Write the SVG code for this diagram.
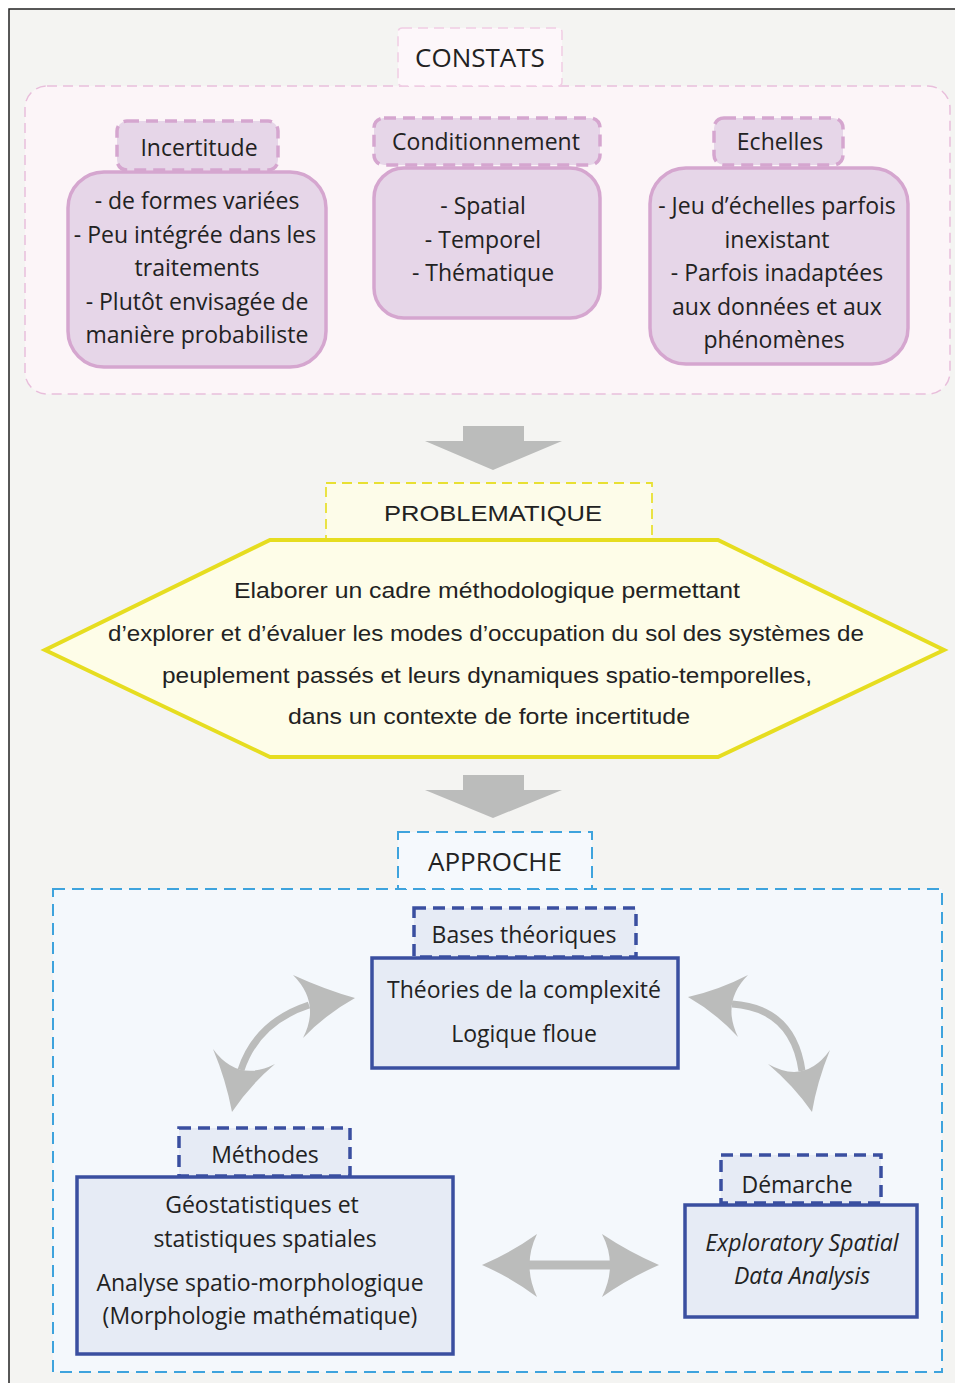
<svg xmlns="http://www.w3.org/2000/svg" width="955" height="1383" viewBox="0 0 955 1383">
<defs>
<style>
text{font-family:"Open Sans","Liberation Sans",sans-serif;fill:#222;text-anchor:middle}
.t24{font-size:26px}
.t21{font-size:23px}
.t22{font-size:22px}
.pcont{fill:#fcf5f8;stroke:#e8bedb;stroke-width:1.5;stroke-dasharray:10 6}
.plab{fill:#fdf7fa;stroke:#f0cde4;stroke-width:1.5;stroke-dasharray:10 6}
.phead{fill:#e6d6e8;stroke:#d5a6cf;stroke-width:3.5;stroke-dasharray:12 7}
.pbody{fill:#e6d6e8;stroke:#d5a6cf;stroke-width:3.5}
.ylab{fill:#fdfce9;stroke:#e8e033;stroke-width:1.8;stroke-dasharray:10 6}
.hex{fill:#fefde8;stroke:#e6dd20;stroke-width:4}
.blab{fill:#f5f9fd;stroke:#3ea3dd;stroke-width:2;stroke-dasharray:12 7}
.bcont{fill:#f4f8fc;stroke:#3ea3dd;stroke-width:2;stroke-dasharray:12 7}
.bhead{fill:#e6ebf5;stroke:#3a4fa0;stroke-width:3.5;stroke-dasharray:12 7}
.bbody{fill:#e6ebf5;stroke:#3a4fa0;stroke-width:3.5}
.garr{fill:#bbbcbb}
.gshaft{fill:none;stroke:#bbbcbb;stroke-width:7}
.pl{font-size:22px;font-family:"Liberation Sans","Open Sans",sans-serif}
</style>
</defs>
<rect x="9" y="9" width="960" height="1390" fill="#f4f4f2" stroke="#222" stroke-width="1.5"/>

<g id="constats">
<rect class="pcont" x="25" y="86" width="925" height="308" rx="22"/>
<rect class="plab" x="398" y="28" width="164" height="58" rx="4"/>
<text class="t24" x="480" y="67">CONSTATS</text>
</g>

<g id="incertitude">
<rect class="phead" x="117" y="121" width="161" height="49" rx="10"/>
<text class="t21" x="199" y="156">Incertitude</text>
<rect class="pbody" x="68" y="172" width="258" height="195" rx="36"/>
<text class="t21" x="197" y="209">- de formes variées</text>
<text class="t21" x="195" y="243">- Peu intégrée dans les</text>
<text class="t21" x="197" y="276">traitements</text>
<text class="t21" x="197" y="310">- Plutôt envisagée de</text>
<text class="t21" x="197" y="343">manière probabiliste</text>
</g>

<g id="conditionnement">
<rect class="phead" x="374" y="118" width="226" height="47" rx="10"/>
<text class="t21" x="486" y="150">Conditionnement</text>
<rect class="pbody" x="374" y="168" width="226" height="150" rx="30"/>
<text class="t21" x="483" y="214">- Spatial</text>
<text class="t21" x="483" y="248">- Temporel</text>
<text class="t21" x="483" y="281">- Thématique</text>
</g>

<g id="echelles">
<rect class="phead" x="714" y="118" width="129" height="47" rx="10"/>
<text class="t21" x="780" y="150">Echelles</text>
<rect class="pbody" x="650" y="168" width="258" height="196" rx="36"/>
<text class="t21" x="777" y="214">- Jeu d’échelles parfois</text>
<text class="t21" x="777" y="248">inexistant</text>
<text class="t21" x="777" y="281">- Parfois inadaptées</text>
<text class="t21" x="777" y="315">aux données et aux</text>
<text class="t21" x="774" y="348">phénomènes</text>
</g>

<g id="problematique">
<rect class="ylab" x="326" y="483" width="326" height="57"/>
<text class="pl" x="493" y="521" font-size="25" textLength="218" lengthAdjust="spacingAndGlyphs">PROBLEMATIQUE</text>
<polygon class="hex" points="270,540 718,540 944,650 718,757 270,757 45,650"/>
<text class="pl" x="487" y="598" textLength="506" lengthAdjust="spacingAndGlyphs">Elaborer un cadre méthodologique permettant</text>
<text class="pl" x="486" y="641" textLength="756" lengthAdjust="spacingAndGlyphs">d’explorer et d’évaluer les modes d’occupation du sol des systèmes de</text>
<text class="pl" x="487" y="683" textLength="650" lengthAdjust="spacingAndGlyphs">peuplement passés et leurs dynamiques spatio-temporelles,</text>
<text class="pl" x="489" y="724" textLength="402" lengthAdjust="spacingAndGlyphs">dans un contexte de forte incertitude</text>
</g>

<g id="approche">
<rect class="bcont" x="53" y="889" width="889" height="483"/>
<rect class="blab" x="398" y="832" width="194" height="57"/>
<text class="t24" x="495" y="871">APPROCHE</text>
</g>

<g id="bases">
<rect class="bhead" x="414" y="908" width="222" height="49"/>
<text class="t21" x="524" y="943">Bases théoriques</text>
<rect class="bbody" x="372" y="958" width="306" height="110"/>
<text class="t21" x="524" y="998">Théories de la complexité</text>
<text class="t21" x="524" y="1042">Logique floue</text>
</g>

<g id="methodes">
<rect class="bhead" x="179" y="1128" width="171" height="48"/>
<text class="t21" x="265" y="1163" font-size="24">Méthodes</text>
<rect class="bbody" x="77" y="1177" width="376" height="177"/>
<text class="t21" x="262" y="1213">Géostatistiques et</text>
<text class="t21" x="265" y="1247">statistiques spatiales</text>
<text class="t21" x="260" y="1291">Analyse spatio-morphologique</text>
<text class="t21" x="260" y="1324">(Morphologie mathématique)</text>
</g>

<g id="demarche">
<rect class="bhead" x="721" y="1155" width="160" height="48"/>
<text class="t21" x="797" y="1193">Démarche</text>
<rect class="bbody" x="685" y="1205" width="232" height="112"/>
<text class="t21" x="802" y="1251" font-size="24" font-style="italic">Exploratory Spatial</text>
<text class="t21" x="802" y="1284" font-size="24" font-style="italic">Data Analysis</text>
</g>

<g id="connectors">
<polygon class="garr" points="463,426 524,426 524,441 562,441 493,470 425,441 463,441"/>
<polygon class="garr" points="463,775 524,775 524,790 562,790 493,818 425,790 463,790"/>
<path class="gshaft" d="M241,1070 Q257,1022 309,1005"/>
<path class="garr" d="M355,998 Q326,990 293,975 Q321,1003 303,1038 Q326,1014 355,998 Z"/>
<path class="garr" d="M232,1112 Q226,1080 213,1049 Q238,1083 275,1064 Q250,1085 232,1112 Z"/>
<path class="gshaft" d="M732,1004 Q793,1008 802,1071"/>
<path class="garr" d="M688,997 Q719,990 748,975 Q721,1002 738,1037 Q716,1013 688,997 Z"/>
<path class="garr" d="M812,1112 Q817,1082 830,1050 Q805,1085 768,1064 Q794,1086 812,1112 Z"/>
<line x1="525" y1="1265" x2="615" y2="1265" stroke="#bbbcbb" stroke-width="9"/>
<path class="garr" d="M482,1265 Q512,1252 537,1234 Q522,1265 537,1297 Q512,1278 482,1265 Z"/>
<path class="garr" d="M659,1265 Q629,1252 602,1234 Q618,1265 602,1297 Q629,1278 659,1265 Z"/>
</g>
</svg>
